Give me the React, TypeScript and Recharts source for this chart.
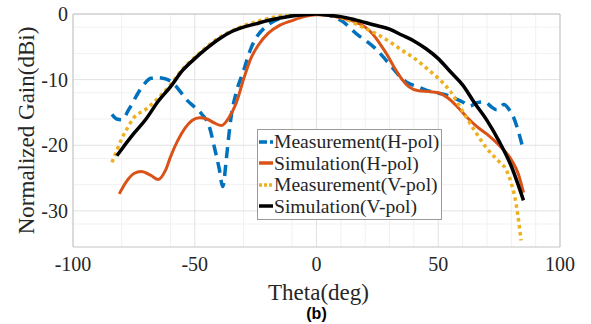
import React from "react";
import {
  LineChart,
  Line,
  XAxis,
  YAxis,
  CartesianGrid,
  Legend,
  ReferenceLine,
} from "recharts";

// Measurement, H-pol
const measHTheta = [
  -84, -82, -80, -77, -74, -71, -68, -65, -62, -59, -56, -53, -50, -47, -44, -42, -40, -38.5, -37, -36,
  -35, -33, -30, -27, -24, -21, -17, -13, -8, -4, 0, 4, 8, 11, 14, 17, 20, 24, 28, 31, 34, 37, 41, 45,
  49, 53, 57, 60, 63, 66, 69, 72, 74, 77, 79, 81, 83, 85,
];
const measHGain = [
  -15.3, -16.0, -16.1, -14.5, -12.5, -10.8, -9.8, -9.7, -9.9, -10.5, -11.8, -13.2, -14.2, -15.3, -17.2,
  -20.2, -23.5, -26.3, -22.0, -18.5, -15.5, -12.0, -8.7, -5.3, -3.2, -2.0, -1.0, -0.4, -0.1, 0, 0, -0.1,
  -0.6, -1.2, -2.2, -3.2, -4.0, -5.2, -6.8, -8.1, -9.4, -10.4, -11.0, -11.6, -12.0, -12.3, -12.9, -13.4,
  -14.0, -13.5, -13.4, -14.2, -14.6, -13.8, -14.5, -15.8, -18.0, -20.8,
];

// Simulation, H-pol
const simHTheta = [
  -81, -78, -75, -72, -68, -65, -62, -60, -57, -54, -51, -48, -45, -42, -39, -36, -33, -30, -27, -24,
  -20, -15, -10, -5, 0, 5, 10, 15, 20, 23, 26, 29, 32, 35, 38, 42, 46, 50, 54, 58, 62, 66, 70, 75, 80,
  83, 85,
];
const simHGain = [
  -27.4, -25.5, -24.3, -24.0, -24.6, -25.2, -23.8, -21.8, -19.3, -17.4, -16.2, -15.8, -16.0, -16.6,
  -17.0, -15.8, -13.6, -10.0, -6.8, -4.8, -3.0, -1.7, -1.0, -0.4, -0.1, -0.2, -0.6, -1.1, -2.0, -3.0,
  -4.5, -6.2, -8.2, -9.9, -11.1, -11.7, -11.8, -12.0, -12.8, -14.2, -15.8, -17.2, -18.3, -20.0, -22.2,
  -24.5, -27.2,
];

// Measurement, V-pol
const measVTheta = [
  -84, -82, -80, -78, -75, -70, -65, -60, -55, -50, -45, -40, -35, -30, -25, -20, -15, -10, -5, 0, 5,
  10, 15, 20, 25, 30, 35, 40, 45, 50, 55, 60, 65, 70, 75, 78, 80, 82, 83, 84,
];
const measVGain = [
  -22.6, -20.8, -19.0, -17.6, -15.8, -14.5, -12.8, -10.8, -8.4, -6.6, -5.0, -3.6, -2.6, -1.8, -1.2,
  -0.7, -0.3, 0, 0.2, 0, -0.1, -0.5, -1.3, -2.2, -3.1, -4.2, -5.5, -6.7, -8.2, -9.8, -11.8, -14.8,
  -17.8, -20.5, -22.5, -23.8, -25.8, -29.0, -31.5, -34.5,
];

// Simulation, V-pol
const simVTheta = [
  -82, -80, -75, -70, -65, -60, -55, -50, -45, -40, -35, -30, -25, -20, -15, -10, -5, 0, 5, 10, 15, 20,
  25, 30, 35, 40, 45, 50, 55, 60, 65, 70, 75, 80, 85,
];
const simVGain = [
  -21.6, -20.6, -18.2, -16.0, -13.3, -11.1, -8.6, -6.8, -5.2, -3.8, -2.7, -2.0, -1.5, -1.0, -0.6, -0.3,
  -0.1, 0, -0.2, -0.4, -0.8, -1.3, -1.8, -2.3, -3.2, -4.1, -5.3, -6.8, -8.8, -10.8, -13.6, -16.2,
  -19.4, -23.2, -28.4,
];

const xTicks = [-100, -50, 0, 50, 100];
const yTicks = [-30, -20, -10, 0];
const xMinor = [-90, -80, -70, -60, -40, -30, -20, -10, 10, 20, 30, 40, 60, 70, 80, 90];
const yMinor = [-34, -32, -28, -26, -24, -22, -18, -16, -14, -12, -8, -6, -4, -2];

const toRows = (theta: number[], gain: number[]) => theta.map((x, i) => ({ x, y: gain[i] }));

const series = [
  { name: "Measurement(H-pol)", data: toRows(measHTheta, measHGain), color: "#0072BD", dash: "11 7", keyDash: "8 3", width: 3.5 },
  { name: "Simulation(H-pol)", data: toRows(simHTheta, simHGain), color: "#D95319", dash: undefined, keyDash: undefined, width: 3 },
  { name: "Measurement(V-pol)", data: toRows(measVTheta, measVGain), color: "#EDB120", dash: "3.5 3.5", keyDash: "3 2", width: 3.5 },
  { name: "Simulation(V-pol)", data: toRows(simVTheta, simVGain), color: "#000000", dash: undefined, keyDash: undefined, width: 3.5 },
];

const serif = '"Liberation Serif", "Times New Roman", serif';
const textColor = "#262626";
const axisColor = "#c4c4c4";

function LegendBox() {
  return (
    <div
      style={{
        background: "#fff",
        border: "1px solid #9a9a9a",
        padding: "1px 2px 2px 1px",
        fontFamily: serif,
        fontSize: 19.6,
        color: textColor,
        lineHeight: "21.5px",
      }}
    >
      {series.map((s) => (
        <div key={s.name} style={{ display: "flex", alignItems: "center", whiteSpace: "nowrap" }}>
          <svg width={14} height={6} style={{ marginRight: 1 }}>
            <line x1={0} y1={3} x2={14} y2={3} stroke={s.color} strokeWidth={3.5} strokeDasharray={s.keyDash} />
          </svg>
          <span>{s.name}</span>
        </div>
      ))}
    </div>
  );
}

export default function App() {
  return (
    <div style={{ position: "absolute", left: 0, top: 0, width: 591, height: 324, background: "#fff" }}>
      <LineChart width={591} height={324} margin={{ top: 14, right: 31, bottom: 47, left: 0 }}>
        <CartesianGrid stroke="#f1f1f1" horizontalValues={yMinor} verticalValues={xMinor} />
        <CartesianGrid stroke="#e2e2e2" horizontalValues={yTicks} verticalValues={xTicks} />
        <XAxis
          type="number"
          dataKey="x"
          domain={[-100, 100]}
          ticks={xTicks}
          allowDataOverflow
          height={30}
          tickLine={false}
          tickSize={0}
          tickMargin={10}
          stroke={axisColor}
          tick={{ fill: textColor, fontSize: 20, fontFamily: serif }}
          label={{
            content: ({ viewBox }: any) => (
              <g>
                <text x={viewBox.x + viewBox.width / 2 + 2} y={300} textAnchor="middle" fontFamily={serif} fontSize={23} fill={textColor}>
                  Theta(deg)
                </text>
                <text x={viewBox.x + viewBox.width / 2} y={319} textAnchor="middle" fontFamily='"Liberation Sans", Arial, sans-serif' fontWeight="bold" fontSize={16} fill="#000">
                  (b)
                </text>
              </g>
            ),
          }}
        />
        <YAxis
          type="number"
          domain={[-35.5, 0]}
          ticks={yTicks}
          allowDataOverflow
          width={73}
          tickLine={false}
          tickSize={0}
          tickMargin={5}
          stroke={axisColor}
          tick={{ fill: textColor, fontSize: 20, fontFamily: serif }}
          label={{
            content: ({ viewBox }: any) => {
              const cy = viewBox.y + viewBox.height / 2;
              return (
                <text x={26} y={cy} transform={`rotate(-90, 26, ${cy})`} textAnchor="middle" dominantBaseline="central" fontFamily={serif} fontSize={23} fill={textColor}>
                  Normalized Gain(dBi)
                </text>
              );
            },
          }}
        />
        <ReferenceLine y={0} stroke={axisColor} />
        <ReferenceLine x={100} stroke={axisColor} />
        {series.map((s) => (
          <Line
            key={s.name}
            name={s.name}
            data={s.data}
            dataKey="y"
            type="monotone"
            stroke={s.color}
            strokeWidth={s.width}
            strokeDasharray={s.dash}
            dot={false}
            activeDot={false}
            isAnimationActive={false}
          />
        ))}
        <Legend
          layout="vertical"
          align="center"
          verticalAlign="middle"
          content={() => <LegendBox />}
          wrapperStyle={{ position: "absolute", left: 257, top: 129, width: "auto", height: "auto" }}
        />
      </LineChart>
    </div>
  );
}
